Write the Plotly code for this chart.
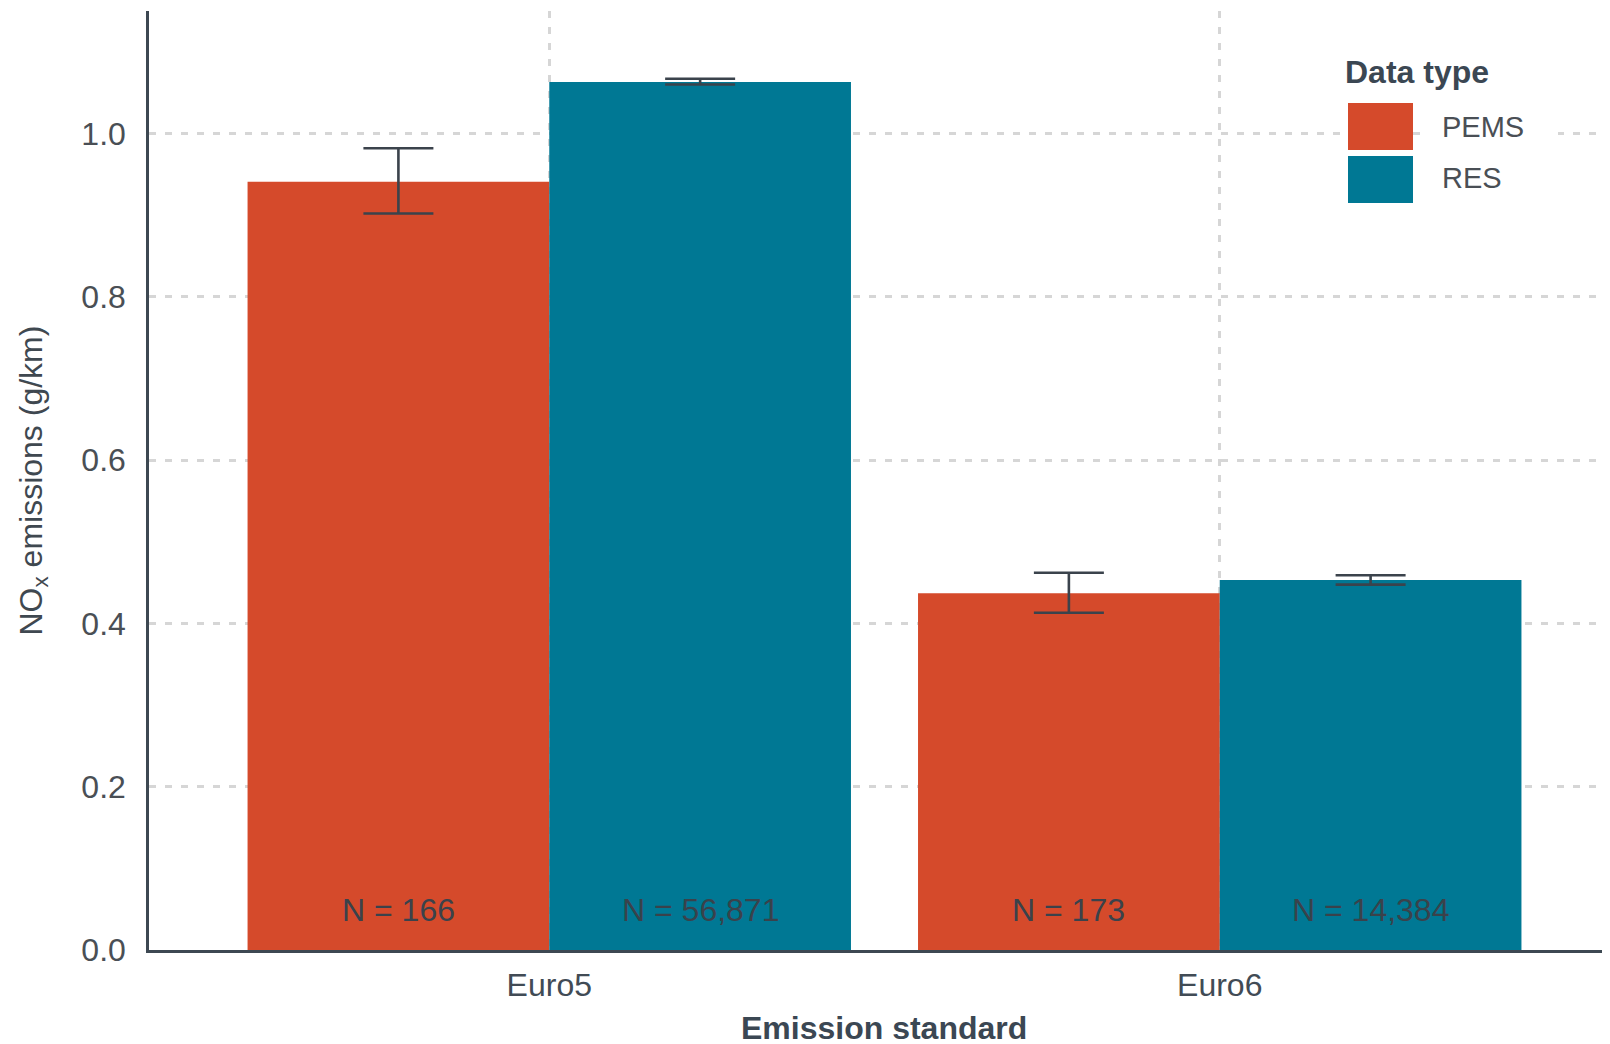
import plotly.graph_objects as go

categories = ["Euro5", "Euro6"]
series_names = ["PEMS", "RES"]
pems_values = [0.941, 0.437]
pems_err_low = [0.902, 0.413]
pems_err_high = [0.982, 0.462]
res_values = [1.063, 0.453]
res_err_low = [1.060, 0.4475]
res_err_high = [1.067, 0.459]
pems_n = ["N = 166", "N = 173"]
res_n = ["N = 56,871", "N = 14,384"]
y_ticks = [0.0, 0.2, 0.4, 0.6, 0.8, 1.0]

PEMS_COLOR = "#D54A2B"
RES_COLOR = "#007894"
DARK = "#3d4852"
FONT = "Liberation Sans, Arial, sans-serif"
FS = 32

W, H = 1610, 1044
L, R, T, B = 141, 0, 3, 102
PW, PH = W - L - R, H - T - B


def px(x):
    return (x - L) / PW


def py(y):
    return (H - B - y) / PH


fig = go.Figure()
for name, vals, lo, hi, col in [
    ("PEMS", pems_values, pems_err_low, pems_err_high, PEMS_COLOR),
    ("RES", res_values, res_err_low, res_err_high, RES_COLOR),
]:
    fig.add_trace(go.Bar(
        name=name, x=categories, y=vals, marker=dict(color=col, line=dict(width=0)),
        error_y=dict(type="data", symmetric=False,
                     array=[h - v for h, v in zip(hi, vals)],
                     arrayminus=[v - l for v, l in zip(vals, lo)],
                     color="#3b434c", thickness=2.6, width=35),
        showlegend=False,
    ))

annotations = []
for i, cat in enumerate(categories):
    annotations.append(dict(x=i - 0.225, y=0.049, xref="x", yref="y", text=pems_n[i],
                            xanchor="center", yanchor="middle", showarrow=False,
                            font=dict(size=FS, color="#3a424b", family=FONT)))
    annotations.append(dict(x=i + 0.225, y=0.049, xref="x", yref="y", text=res_n[i],
                            xanchor="center", yanchor="middle", showarrow=False,
                            font=dict(size=FS, color="#3a424b", family=FONT)))

# axis titles
annotations.append(dict(x=px(876), y=py(1020), xref="paper", yref="paper",
                        xanchor="center", yanchor="middle",
                        text="<b>Emission standard</b>", showarrow=False,
                        font=dict(size=FS, color="#3b4753", family=FONT)))
annotations.append(dict(x=px(25), y=py((T + H - B) / 2), xref="paper", yref="paper",
                        xanchor="center", yanchor="middle",
                        text="NO<sub>x</sub> emissions (g/km)", textangle=-90, showarrow=False,
                        font=dict(size=FS, color="#3f4850", family=FONT)))

# custom legend
shapes = [
    dict(type="rect", xref="paper", yref="paper", x0=px(1414), x1=px(1550), y0=py(200), y1=py(92),
         fillcolor="white", line=dict(width=0), layer="above"),
    dict(type="rect", xref="paper", yref="paper", x0=px(1340), x1=px(1405), y0=py(142), y1=py(95),
         fillcolor=PEMS_COLOR, line=dict(width=0), layer="above"),
    dict(type="rect", xref="paper", yref="paper", x0=px(1340), x1=px(1405), y0=py(195), y1=py(148),
         fillcolor=RES_COLOR, line=dict(width=0), layer="above"),
]
annotations.append(dict(x=px(1335), y=py(64), xref="paper", yref="paper",
                        xanchor="left", yanchor="middle",
                        text="<b>Data type</b>", showarrow=False,
                        font=dict(size=FS, color="#3b4753", family=FONT)))
annotations.append(dict(x=px(1432), y=py(119), xref="paper", yref="paper",
                        xanchor="left", yanchor="middle",
                        text=series_names[0], showarrow=False,
                        font=dict(size=29, color="#4a4f55", family=FONT)))
annotations.append(dict(x=px(1432), y=py(170), xref="paper", yref="paper",
                        xanchor="left", yanchor="middle",
                        text=series_names[1], showarrow=False,
                        font=dict(size=29, color="#4a4f55", family=FONT)))

fig.update_layout(
    width=W, height=H,
    margin=dict(l=L, r=R, t=T, b=B, pad=0),
    paper_bgcolor="white", plot_bgcolor="white",
    barmode="group", bargap=0.1, bargroupgap=0,
    font=dict(family=FONT, size=FS, color="#4a4f55"),
    annotations=annotations, shapes=shapes,
    xaxis=dict(range=[-0.597, 1.594], showgrid=True, gridcolor="#d6d6d6", gridwidth=2.5,
               griddash="7px,9px", showline=True, linecolor=DARK, linewidth=2.5,
               ticks="", tickfont=dict(size=FS, color="#414b55"), ticklabelstandoff=5,
               zeroline=False, fixedrange=True),
    yaxis=dict(range=[0, 1.15], tickvals=y_ticks, ticktext=[f"{v:.1f}" for v in y_ticks],
               showgrid=True, gridcolor="#d6d6d6", gridwidth=2.5, griddash="7px,9px",
               showline=True, linecolor=DARK, linewidth=2.5, ticks="",
               tickfont=dict(size=FS, color="#4a4f55"), ticklabelstandoff=14,
               zeroline=False, fixedrange=True),
)

fig.write_html("out.html")
